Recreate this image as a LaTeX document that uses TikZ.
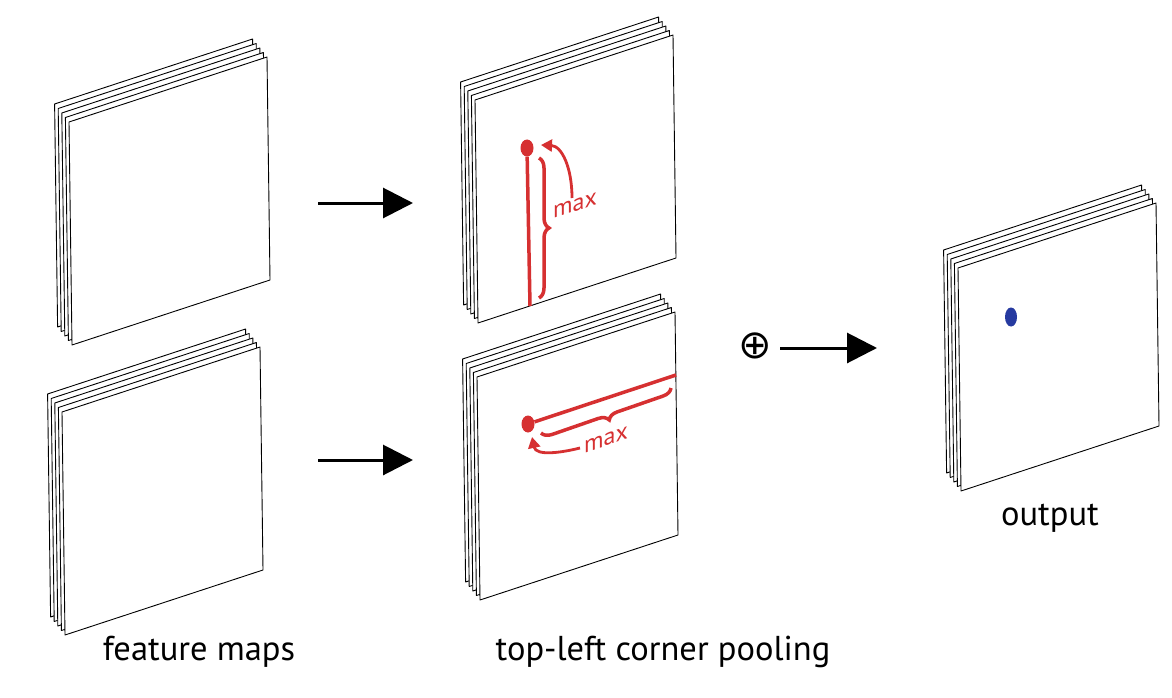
\documentclass[tikz,border=0pt]{standalone}
\usepackage{fontspec}
\setmainfont{PT Sans}
\newfontfamily\symfont{DejaVu Sans}
\usetikzlibrary{arrows.meta,decorations.pathreplacing,shapes.geometric}

\definecolor{poolred}{RGB}{214,48,49}
\definecolor{peakblue}{RGB}{38,58,160}

% one stack of five feature map sheets, front sheet top-left at #1
\newcommand{\fmstack}[1]{%
  \foreach \k in {4,3,2,1,0}{
    \draw[sheet, shift={(#1)}, shift={(-3.6*\k,-4.5*\k)}]
      (0,0) -- (198,-65) -- (201,158) -- (3,223) -- cycle;
  }}

\begin{document}
\begin{tikzpicture}[
  x=1pt, y=-1pt,
  sheet/.style={draw, fill=white, line width=0.9pt, line join=round},
  arr/.style={line width=3pt, -{Triangle[length=30pt,width=30pt]}},
  pool/.style={poolred, line width=3.5pt},
  dotpt/.style={fill=poolred, ellipse, minimum width=13pt, minimum height=17pt, inner sep=0pt},
  brc/.style={poolred, line width=3.5pt, decorate, decoration={brace, amplitude=10pt}},
  curlarr/.style={poolred, line width=2.8pt, -{Triangle[length=11pt,width=12pt]}},
  lbl/.style={font=\fontsize{34.5}{40}\selectfont},
  maxlbl/.style={poolred, font=\fontsize{24}{26}\selectfont, yslant=0.33, inner sep=0pt}
]
\useasboundingbox[fill=white] (0,0) rectangle (1172,698);

% stacks
\coordinate (fm1) at (69,122);
\coordinate (fm2) at (62,412);
\coordinate (tl1) at (475,100);
\coordinate (tl2) at (477,377);
\coordinate (out) at (958,268);
\fmstack{fm1}
\fmstack{fm2}
\fmstack{tl1}
\fmstack{tl2}
\fmstack{out}

% arrows
\coordinate (a1s) at (318,203);
\coordinate (a1e) at (413,203);
\coordinate (a2s) at (318,460);
\coordinate (a2e) at (413,460);
\coordinate (a3s) at (780,348);
\coordinate (a3e) at (877,348);
\draw[arr] (a1s) -- (a1e);
\draw[arr] (a2s) -- (a2e);
\node[font=\symfont\fontsize{40}{40}\selectfont, inner sep=0pt] (sum) at (755,346) {⊕};
\draw[arr] (a3s) -- (a3e);

% vertical pooling
\node[dotpt] (pt1) at (527,148) {};
\coordinate (v1) at (530,306);
\draw[pool] (pt1) -- (v1);
\coordinate (b1s) at (539,158);
\coordinate (b1e) at (539,298);
\draw[brc] (b1s) -- (b1e);
\node[maxlbl, anchor=west] (max1) at (553,213) {max};
\coordinate (c1s) at (572,198);
\coordinate (c1e) at (541,145);
\draw[curlarr] (c1s) .. controls (572,168) and (562,146) .. (c1e);

% horizontal pooling
\node[dotpt] (pt2) at (528,424) {};
\coordinate (h1) at (676,375);
\draw[pool] (pt2) -- (h1);
\coordinate (b2s) at (671,388);
\coordinate (b2e) at (541,433);
\draw[brc] (b2s) -- (b2e);
\node[maxlbl] (max2) at (606,440) {max};
\coordinate (c2s) at (580,448);
\coordinate (c2e) at (532,437);
\draw[curlarr] (c2s) .. controls (560,453) and (536,456) .. (c2e);

% output peak
\node[fill=peakblue, ellipse, minimum width=12pt, minimum height=19pt, inner sep=0pt] (peak) at (1011,317) {};

% labels
\node[lbl] (fmlbl) at (199,652) {feature maps};
\node[lbl] (tllbl) at (663,652) {top-left corner pooling};
\node[lbl] (outlbl) at (1050,518) {output};
\end{tikzpicture}
\end{document}
